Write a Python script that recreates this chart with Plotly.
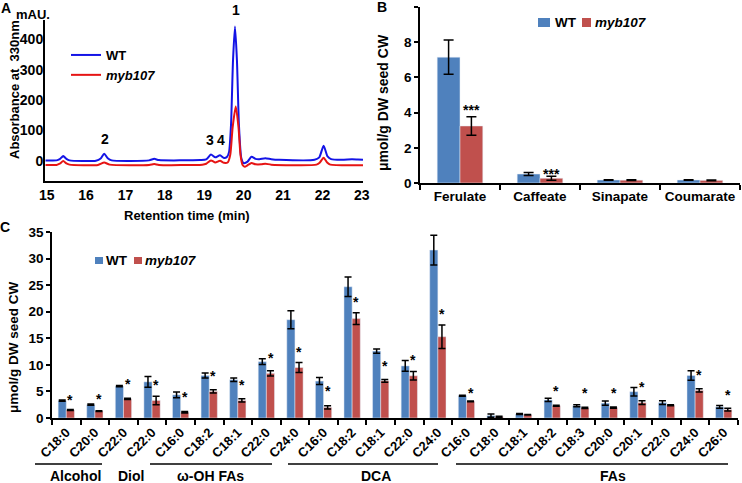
import plotly.graph_objects as go

FONT = "Arial, Liberation Sans, sans-serif"
BLUE_BAR = "#4F81BD"
RED_BAR = "#C0504D"

# ---- panel A: HPLC chromatogram ----
wt_time = [14.97, 15.25, 15.33, 15.42, 15.5, 15.58, 16.25, 16.37, 16.46, 16.55, 16.65,
           17.6, 17.73, 17.85, 18.9, 19.05, 19.17, 19.28, 19.4, 19.5, 19.58, 19.63,
           19.68, 19.73, 19.78, 19.83, 19.88, 19.94, 20.0, 20.1, 20.2, 20.3, 20.4,
           20.55, 20.7, 20.9, 21.8, 21.92, 22.03, 22.13, 22.22, 22.5, 22.75, 22.9, 23.03]
wt_abs = [2, 2, 6, 16, 7, 2, 1, 8, 24, 9, 2,
          2, 7, 3, 3, 5, 21, 12, 19, 10, 14, 30,
          120, 330, 442, 330, 120, 10, -7, -2, 14, 7, 6,
          9, 6, 4, 4, 12, 50, 15, 6, 4, 6, 5, 4]

myb_time = [14.97, 15.25, 15.33, 15.42, 15.5, 15.58, 16.3, 16.46, 16.6, 17.6, 17.73,
            17.85, 18.95, 19.05, 19.17, 19.28, 19.4, 19.5, 19.6, 19.66, 19.72, 19.8,
            19.87, 19.92, 19.97, 20.03, 20.1, 20.2, 20.3, 20.45, 20.55, 20.7, 21.85,
            21.93, 22.03, 22.12, 22.2, 23.03]
myb_abs = [-13, -13, -9, 0, -8, -12, -13, -5, -12, -13, -10,
           -13, -12, -9, 2, -5, 1, -6, -4, 20, 110, 179,
           110, 20, -12, -19, -14, -7, -11, -11, -9, -12, -12,
           -6, 11, -5, -12, -14]

peak_labels = ["1", "2", "3", "4"]
peak_times = [19.8, 16.47, 19.15, 19.43]
peak_heights = [462, 40, 36, 36]

# ---- panel B: phenolics ----
phenolics = ["Ferulate", "Caffeate", "Sinapate", "Coumarate"]
wt_phen = [7.15, 0.51, 0.17, 0.17]
wt_phen_err = [0.97, 0.08, 0.02, 0.02]
myb_phen = [3.24, 0.27, 0.16, 0.15]
myb_phen_err = [0.52, 0.11, 0.02, 0.02]
phen_sig = ["***", "***", "", ""]
phen_sig_y = [4.3, 0.7, None, None]

# ---- panel C: aliphatic monomers ----
c_labels = ["C18:0", "C20:0", "C22:0", "C22:0", "C16:0", "C18:2", "C18:1", "C22:0",
            "C24:0", "C16:0", "C18:2", "C18:1", "C22:0", "C24:0", "C16:0", "C18:0",
            "C18:1", "C18:2", "C18:3", "C20:0", "C20:1", "C22:0", "C24:0", "C26:0"]
wt_c = [3.25, 2.5, 6.0, 6.8, 4.35, 8.0, 7.2, 10.6, 18.5, 6.95, 24.7, 12.6,
        9.8, 31.6, 4.2, 0.45, 0.75, 3.4, 2.3, 2.8, 4.95, 2.9, 8.0, 2.1]
wt_c_err = [0.12, 0.12, 0.12, 1.0, 0.55, 0.45, 0.35, 0.55, 1.7, 0.65, 1.85, 0.4,
            1.0, 2.8, 0.1, 0.3, 0.1, 0.3, 0.2, 0.4, 0.8, 0.35, 0.9, 0.25]
myb_c = [1.5, 1.3, 3.6, 3.3, 1.07, 5.0, 3.3, 8.4, 9.5, 2.0, 18.7, 7.0,
         7.95, 15.3, 3.13, 0.25, 0.63, 2.3, 1.9, 1.95, 2.9, 2.4, 5.2, 1.57]
myb_c_err = [0.08, 0.08, 0.12, 0.8, 0.15, 0.3, 0.3, 0.5, 0.95, 0.3, 1.1, 0.25,
             0.8, 2.2, 0.08, 0.1, 0.05, 0.1, 0.1, 0.1, 0.35, 0.1, 0.3, 0.25]
c_sig_y = [4.2, 4.4, 7.1, 7.0, 4.7, 8.6, 6.9, 12.0, 13.1, 5.75, 22.5, 10.6,
           11.6, 20.4, 5.45, None, None, 5.75, 5.45, 5.45, 6.6, None, 8.76, 5.0]
c_groups = ["Alcohol", "Diol", "ω-OH FAs", "DCA", "FAs"]

W, H = 742, 483


def px(x):
    return x / W


def py(y):
    return 1 - y / H


fig = go.Figure()

# A
fig.add_trace(go.Scatter(x=wt_time, y=wt_abs, mode="lines", name="<b>WT</b>",
                         line=dict(color="#1414E6", width=2, shape="spline", smoothing=0.6),
                         xaxis="x", yaxis="y"))
fig.add_trace(go.Scatter(x=myb_time, y=myb_abs, mode="lines", name="<b><i>myb107</i></b>",
                         line=dict(color="#E61414", width=2, shape="spline", smoothing=0.6),
                         xaxis="x", yaxis="y"))

# B
err_b = dict(type="data", color="black", thickness=1.5, width=5)
fig.add_trace(go.Bar(x=phenolics, y=wt_phen, marker_color=BLUE_BAR, showlegend=False,
                     error_y=dict(err_b, array=wt_phen_err), xaxis="x2", yaxis="y2"))
fig.add_trace(go.Bar(x=phenolics, y=myb_phen, marker_color=RED_BAR, showlegend=False,
                     error_y=dict(err_b, array=myb_phen_err), xaxis="x2", yaxis="y2"))

# C
idx = list(range(len(c_labels)))
err_c = dict(type="data", color="black", thickness=1.5, width=3.5)
fig.add_trace(go.Bar(x=idx, y=wt_c, marker_color=BLUE_BAR, showlegend=False,
                     error_y=dict(err_c, array=wt_c_err), xaxis="x3", yaxis="y3"))
fig.add_trace(go.Bar(x=idx, y=myb_c, marker_color=RED_BAR, showlegend=False,
                     error_y=dict(err_c, array=myb_c_err), xaxis="x3", yaxis="y3"))

bold = dict(family=FONT, color="black", weight="bold")
axis_common = dict(showline=True, linecolor="black", showgrid=False, zeroline=False,
                   tickcolor="black", fixedrange=True, automargin=False)

fig.update_layout(
    width=W, height=H, margin=dict(l=0, r=0, t=0, b=0, autoexpand=False),
    paper_bgcolor="white", plot_bgcolor="white",
    barmode="group", bargap=0.43, bargroupgap=0,
    font=dict(family=FONT, color="black"),
    legend=dict(x=px(66), y=py(40), xanchor="left", yanchor="top",
                font=dict(family=FONT, size=13, color="black"),
                bgcolor="rgba(0,0,0,0)", tracegroupgap=0),
    xaxis=dict(axis_common, domain=[px(45), px(363)], range=[14.957, 23.03],
               tickvals=list(range(15, 24)), ticks="", linewidth=2,
               tickfont=dict(bold, size=14), anchor="y"),
    yaxis=dict(axis_common, domain=[py(181), py(20)], range=[-65.8, 463.6],
               tickvals=[0, 100, 200, 300, 400], ticks="", linewidth=2,
               ticklabelstandoff=-3, tickfont=dict(bold, size=14), anchor="x"),
    xaxis2=dict(axis_common, domain=[px(420), px(740)], type="category",
                range=[-0.5, 3.5], ticks="outside", tickson="boundaries", ticklen=5,
                tickwidth=1.5, linewidth=1.5, tickangle=0,
                tickfont=dict(bold, size=13.5), anchor="y2"),
    yaxis2=dict(axis_common, domain=[py(183), py(7)], range=[0, 10], dtick=2,
                ticks="outside", ticklen=4, tickwidth=1.5, linewidth=1.5,
                tickfont=dict(bold, size=13.5), anchor="x2"),
    xaxis3=dict(axis_common, domain=[px(52), px(738)], range=[-0.5, 23.5],
                tickvals=idx, ticktext=c_labels, tickangle=-45, ticks="",
                linewidth=1.5, tickfont=dict(bold, size=13), anchor="y3",
                minor=dict(tickmode="array", tickvals=[i - 0.5 for i in range(25)],
                           ticks="outside", ticklen=5, tickwidth=1.5, tickcolor="black")),
    yaxis3=dict(axis_common, domain=[py(418), py(232)], range=[0, 35], dtick=5,
                ticks="outside", ticklen=4, tickwidth=1.5, linewidth=1.5,
                tickfont=dict(bold, size=13.5), anchor="x3"),
)

ann = []


def text(x, y, s, size=13, **kw):
    d = dict(x=px(x), y=py(y), xref="paper", yref="paper", text=s, showarrow=False,
             xanchor="center", yanchor="middle", font=dict(bold, size=size))
    d.update(kw)
    ann.append(d)


# panel letters and axis titles
text(6, 8, "A", 14)
text(382, 7, "B", 14)
text(5, 227, "C", 14)
text(33, 15, "mAU.", 13)
text(14, 90, "Absorbance at&nbsp; 330nm", 13, textangle=-90)
text(187, 215, "Retention time (min)", 13)
text(383, 102, "μmol/g DW seed CW", 14, textangle=-90)
text(13, 347, "μmol/g DW seed CW", 13.5, textangle=-90)

# peak numbers
for lab, t, h in zip(peak_labels, peak_times, peak_heights):
    ann.append(dict(x=t, y=h, xref="x", yref="y", text=lab, showarrow=False,
                    yanchor="bottom", font=dict(bold, size=14)))

# significance marks
for i, (s, yv) in enumerate(zip(phen_sig, phen_sig_y)):
    if s:
        ann.append(dict(x=i + 0.145, y=yv, xref="x2", yref="y2", text=s, showarrow=False,
                        yshift=-3, font=dict(bold, size=14)))
for i, yv in enumerate(c_sig_y):
    if yv is not None:
        ann.append(dict(x=i + 0.145, y=yv, xref="x3", yref="y3", text="*", showarrow=False,
                        yshift=-4, font=dict(bold, size=14)))

# hand-made legends for B and C
shapes = []


def legend_box(x0, y0, w, h, color):
    shapes.append(dict(type="rect", xref="paper", yref="paper", x0=px(x0), x1=px(x0 + w),
                       y0=py(y0 + h), y1=py(y0), fillcolor=color, line=dict(width=0)))


legend_box(538, 18, 12, 9, BLUE_BAR)
text(553, 22, "WT", 13.5, xanchor="left")
legend_box(582, 18, 9, 9, RED_BAR)
text(593, 22, "<i>myb107</i>", 13.5, xanchor="left")

legend_box(95, 257, 8, 7, BLUE_BAR)
text(104, 260, "WT", 13.5, xanchor="left")
legend_box(134, 257, 8, 7, RED_BAR)
text(143, 260, "<i>myb107</i>", 13.5, xanchor="left")

# group brackets under panel C
group_spans = [(35, 102), None, (150, 272), (288, 438), (456, 728)]
group_text_x = [75, 131, 210, 376, 613]
for g, span, gx in zip(c_groups, group_spans, group_text_x):
    if span:
        shapes.append(dict(type="line", xref="paper", yref="paper", x0=px(span[0]),
                           x1=px(span[1]), y0=py(464), y1=py(464),
                           line=dict(color="black", width=1.5)))
    text(gx, 476, g, 14)

fig.update_layout(annotations=ann, shapes=shapes)

# the page body has a default 8px margin; drop it so the figure sits at the corner
fig.write_html("out.html", config={"displayModeBar": False},
               post_script="document.body.style.margin='0';")
